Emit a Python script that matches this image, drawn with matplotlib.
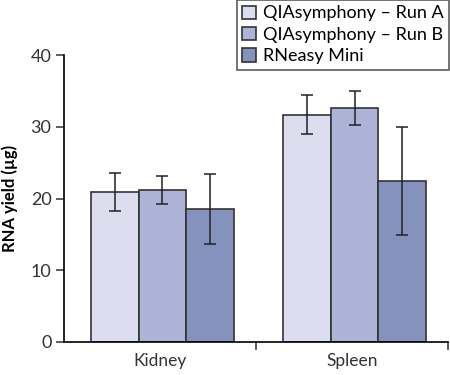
import numpy as np
import matplotlib
matplotlib.use("Agg")
from matplotlib import pyplot as plt

plt.rcParams['font.family'] = ['Lato', 'DejaVu Sans']

categories = ["Kidney", "Spleen"]
series = ["QIAsymphony – Run A", "QIAsymphony – Run B", "RNeasy Mini"]
values = [
    [20.9, 31.7],
    [21.2, 32.6],
    [18.5, 22.4],
]
errors = [
    [2.7, 2.7],
    [2.0, 2.35],
    [4.9, 7.5],
]
colors = ["#dcdef0", "#adb3d6", "#8592be"]

fig = plt.figure(figsize=(4.5, 3.75), dpi=100)
ax = fig.add_axes([0.1422, 0.088, 0.8534, 0.7653])

x = np.arange(len(categories))
w = 0.247
for i in range(len(series)):
    ax.bar(x + (i - 1) * w + 0.013, values[i], w, yerr=errors[i], color=colors[i],
           edgecolor="#333333", linewidth=1.2, label=series[i],
           error_kw=dict(ecolor="#222222", elinewidth=1.1, capsize=4, capthick=1.1))

ax.set_xlim(-0.5, 1.5)
ax.set_ylim(0, 40)
ax.set_yticks([0, 10, 20, 30, 40])
ax.set_xticks([0.5, 1.5], minor=True)
ax.set_xticks(x)
ax.set_xticklabels(categories)
ax.tick_params(axis="x", which="major", length=0, pad=8, labelsize=12.5)
ax.tick_params(axis="x", which="minor", length=6, width=1.1, color="#333333")
ax.tick_params(axis="y", length=6, width=1.1, color="#333333", labelsize=13, pad=3)
for lab in ax.get_yticklabels() + ax.get_xticklabels():
    lab.set_color("#333333")
ax.spines["top"].set_visible(False)
ax.spines["right"].set_visible(False)
ax.spines["left"].set_linewidth(1.2)
ax.spines["bottom"].set_linewidth(1.2)
ax.set_ylabel("RNA yield (µg)", fontweight="bold", fontsize=12, labelpad=9)

leg = fig.legend(loc="upper right", bbox_to_anchor=(0.998, 1.0), fontsize=13,
                 frameon=True, fancybox=False, handlelength=0.75, handleheight=0.75,
                 handletextpad=0.4, labelspacing=0.3, borderpad=0.3, borderaxespad=0)
leg.get_frame().set_edgecolor("#333333")
leg.get_frame().set_linewidth(1.2)

fig.savefig("out.png", dpi=100)
